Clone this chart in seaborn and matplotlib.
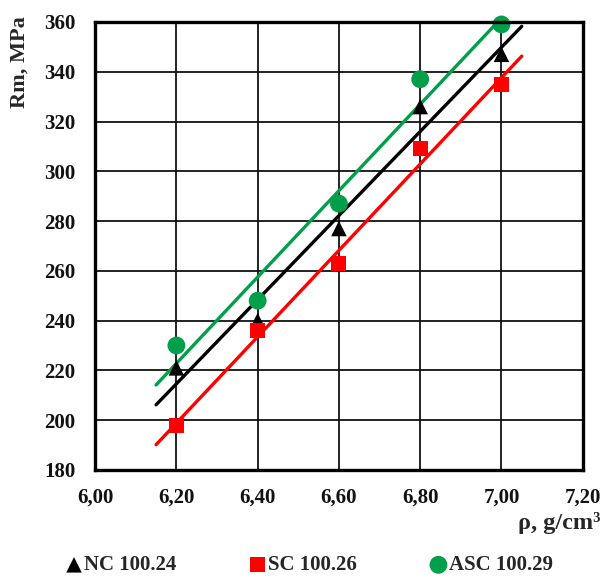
import numpy as np
import pandas as pd
import matplotlib
matplotlib.use("Agg")
import matplotlib.pyplot as plt
import seaborn as sns

# density, g/cm3
density = [6.20, 6.40, 6.60, 6.80, 7.00]
# tensile strength Rm, MPa
rm_nc = [221, 240, 277, 326, 347]
rm_sc = [198, 236, 263, 309, 335]
rm_asc = [230, 248, 287, 337, 359]

series_names = ["NC 100.24", "SC 100.26", "ASC 100.29"]
series_values = [rm_nc, rm_sc, rm_asc]
series_colors = ["#000000", "#ff0000", "#00a04a"]
series_markers = ["^", "s", "o"]
marker_sizes = [125, 115, 165]

x_ticks = [6.00, 6.20, 6.40, 6.60, 6.80, 7.00, 7.20]
x_tick_labels = ["6,00", "6,20", "6,40", "6,60", "6,80", "7,00", "7,20"]
y_ticks = [180, 200, 220, 240, 260, 280, 300, 320, 340, 360]

sns.set_theme(style="white")
plt.rcParams["font.family"] = ["Liberation Serif", "DejaVu Serif"]
plt.rcParams["font.weight"] = "bold"

fig = plt.figure(figsize=(6.02, 5.78), dpi=100)
ax = fig.add_axes([0.158, 0.187, 0.810, 0.775])

# linear trend lines, extended slightly beyond the measured range
trend_x = np.array([6.15, 7.05])
for name, vals, col in zip(series_names, series_values, series_colors):
    k, b = np.polyfit(density, vals, 1)
    tdf = pd.DataFrame({"x": trend_x, "y": k * trend_x + b})
    sns.lineplot(data=tdf, x="x", y="y", color=col, linewidth=2.4, ax=ax,
                 legend=False, zorder=3)

for name, vals, col, mk, ms in zip(series_names, series_values, series_colors,
                                   series_markers, marker_sizes):
    df = pd.DataFrame({"x": density, "y": vals})
    sns.scatterplot(data=df, x="x", y="y", color=col, marker=mk, s=ms,
                    edgecolor="none", ax=ax, label=name, zorder=4,
                    clip_on=False)

ax.set_xlim(6.0, 7.2)
ax.set_ylim(180, 360)
ax.set_xticks(x_ticks)
ax.set_xticklabels(x_tick_labels)
ax.set_yticks(y_ticks)
ax.tick_params(axis="both", length=0, labelsize=15, colors="#111111")
ax.tick_params(axis="x", pad=13)
ax.tick_params(axis="y", pad=14)
for lab in ax.get_xticklabels() + ax.get_yticklabels():
    lab.set_fontweight("bold")

ax.grid(True, color="#111111", linewidth=1.3)
for sp in ax.spines.values():
    sp.set_color("#000000")
    sp.set_linewidth(2.4)
    sp.set_zorder(5)

ax.set_xlabel("")
ax.set_ylabel("")
fig.text(0.998, 0.095, "ρ, g/cm³", ha="right", va="center", fontsize=17.5,
         fontweight="bold")
fig.text(0.033, 0.893, "Rm, MPa", ha="center", va="center", rotation=90,
         fontsize=16, fontweight="bold")

handles, labels = ax.get_legend_handles_labels()
if ax.legend_:
    ax.legend_.remove()
fig.legend(handles, labels, loc="center", bbox_to_anchor=(0.512, 0.022),
           ncol=3, frameon=False, handletextpad=0.0, handlelength=1.0,
           columnspacing=3.4, borderpad=0, borderaxespad=0,
           prop={"weight": "bold", "size": 15})

fig.savefig("out.png", dpi=100, facecolor="white")
